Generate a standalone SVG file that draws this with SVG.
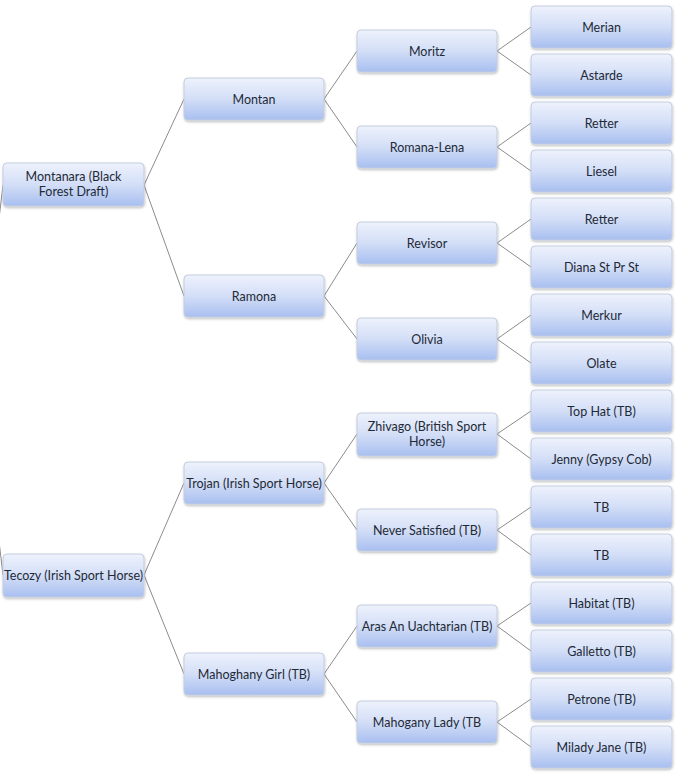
<svg xmlns="http://www.w3.org/2000/svg" width="681" height="776" viewBox="0 0 681 776">
<defs>
<linearGradient id="g" x1="0" y1="0" x2="0" y2="1">
<stop offset="0" stop-color="#eef2fc"/>
<stop offset="0.5" stop-color="#d3def7"/>
<stop offset="1" stop-color="#a8bff0"/>
</linearGradient>
<filter id="sh" x="-10%" y="-20%" width="120%" height="150%">
<feDropShadow dx="0.5" dy="1.5" stdDeviation="1.2" flood-color="#000" flood-opacity="0.25"/>
</filter>
</defs>
<style>
.n rect{fill:url(#g);stroke:#c3cde0;stroke-width:1;filter:url(#sh)}
.n text{font-family:Lato,"Open Sans",sans-serif;font-size:12.5px;fill:#1e2a36;text-anchor:middle}
.c line{stroke:#8c8c8c;stroke-width:1}
</style>
<rect x="0" y="0" width="681" height="776" fill="#ffffff"/>
<g class="c">
<line x1="3" y1="185" x2="-20" y2="380"/>
<line x1="3" y1="575" x2="-20" y2="380"/>
<line x1="144" y1="185" x2="184" y2="99"/>
<line x1="144" y1="185" x2="184" y2="296"/>
<line x1="144" y1="575" x2="184" y2="483"/>
<line x1="144" y1="575" x2="184" y2="674"/>
<line x1="324" y1="99" x2="357" y2="51"/>
<line x1="324" y1="99" x2="357" y2="147"/>
<line x1="324" y1="296" x2="357" y2="243"/>
<line x1="324" y1="296" x2="357" y2="339"/>
<line x1="324" y1="483" x2="357" y2="434"/>
<line x1="324" y1="483" x2="357" y2="530"/>
<line x1="324" y1="674" x2="357" y2="626"/>
<line x1="324" y1="674" x2="357" y2="722"/>
<line x1="497" y1="51" x2="531" y2="27"/>
<line x1="497" y1="51" x2="531" y2="75"/>
<line x1="497" y1="147" x2="531" y2="123"/>
<line x1="497" y1="147" x2="531" y2="171"/>
<line x1="497" y1="243" x2="531" y2="219"/>
<line x1="497" y1="243" x2="531" y2="267"/>
<line x1="497" y1="339" x2="531" y2="315"/>
<line x1="497" y1="339" x2="531" y2="363"/>
<line x1="497" y1="434" x2="531" y2="411"/>
<line x1="497" y1="434" x2="531" y2="459"/>
<line x1="497" y1="530" x2="531" y2="507"/>
<line x1="497" y1="530" x2="531" y2="555"/>
<line x1="497" y1="626" x2="531" y2="603"/>
<line x1="497" y1="626" x2="531" y2="651"/>
<line x1="497" y1="722" x2="531" y2="699"/>
<line x1="497" y1="722" x2="531" y2="747"/>
</g>
<g id="montanara" class="n"><rect x="3" y="163" width="141" height="43" rx="4"/><text x="73.5" y="181">Montanara (Black</text><text x="73.5" y="196">Forest Draft)</text></g>
<g id="tecozy" class="n"><rect x="3" y="554" width="141" height="43" rx="4"/><text x="73.5" y="580">Tecozy (Irish Sport Horse)</text></g>
<g id="montan" class="n"><rect x="184" y="78" width="140" height="42" rx="4"/><text x="254" y="104">Montan</text></g>
<g id="ramona" class="n"><rect x="184" y="275" width="140" height="42" rx="4"/><text x="254" y="301">Ramona</text></g>
<g id="trojan" class="n"><rect x="184" y="462" width="140" height="42" rx="4"/><text x="254" y="488">Trojan (Irish Sport Horse)</text></g>
<g id="mahoghany-girl" class="n"><rect x="184" y="653" width="140" height="42" rx="4"/><text x="254" y="679">Mahoghany Girl (TB)</text></g>
<g id="moritz" class="n"><rect x="357" y="30" width="140" height="42" rx="4"/><text x="427" y="56">Moritz</text></g>
<g id="romana-lena" class="n"><rect x="357" y="126" width="140" height="42" rx="4"/><text x="427" y="152">Romana-Lena</text></g>
<g id="revisor" class="n"><rect x="357" y="222" width="140" height="42" rx="4"/><text x="427" y="248">Revisor</text></g>
<g id="olivia" class="n"><rect x="357" y="318" width="140" height="42" rx="4"/><text x="427" y="344">Olivia</text></g>
<g id="zhivago" class="n"><rect x="357" y="413" width="140" height="43" rx="4"/><text x="427" y="431">Zhivago (British Sport</text><text x="427" y="446">Horse)</text></g>
<g id="never-satisfied" class="n"><rect x="357" y="509" width="140" height="42" rx="4"/><text x="427" y="535">Never Satisfied (TB)</text></g>
<g id="aras" class="n"><rect x="357" y="605" width="140" height="42" rx="4"/><text x="427" y="631">Aras An Uachtarian (TB)</text></g>
<g id="mahogany-lady" class="n"><rect x="357" y="701" width="140" height="42" rx="4"/><text x="427" y="727">Mahogany Lady (TB</text></g>
<g id="merian" class="n"><rect x="531" y="6" width="141" height="42" rx="4"/><text x="601.5" y="32">Merian</text></g>
<g id="astarde" class="n"><rect x="531" y="54" width="141" height="42" rx="4"/><text x="601.5" y="80">Astarde</text></g>
<g id="retter1" class="n"><rect x="531" y="102" width="141" height="42" rx="4"/><text x="601.5" y="128">Retter</text></g>
<g id="liesel" class="n"><rect x="531" y="150" width="141" height="42" rx="4"/><text x="601.5" y="176">Liesel</text></g>
<g id="retter2" class="n"><rect x="531" y="198" width="141" height="42" rx="4"/><text x="601.5" y="224">Retter</text></g>
<g id="diana" class="n"><rect x="531" y="246" width="141" height="42" rx="4"/><text x="601.5" y="272">Diana St Pr St</text></g>
<g id="merkur" class="n"><rect x="531" y="294" width="141" height="42" rx="4"/><text x="601.5" y="320">Merkur</text></g>
<g id="olate" class="n"><rect x="531" y="342" width="141" height="42" rx="4"/><text x="601.5" y="368">Olate</text></g>
<g id="top-hat" class="n"><rect x="531" y="390" width="141" height="42" rx="4"/><text x="601.5" y="416">Top Hat (TB)</text></g>
<g id="jenny" class="n"><rect x="531" y="438" width="141" height="42" rx="4"/><text x="601.5" y="464">Jenny (Gypsy Cob)</text></g>
<g id="tb1" class="n"><rect x="531" y="486" width="141" height="42" rx="4"/><text x="601.5" y="512">TB</text></g>
<g id="tb2" class="n"><rect x="531" y="534" width="141" height="42" rx="4"/><text x="601.5" y="560">TB</text></g>
<g id="habitat" class="n"><rect x="531" y="582" width="141" height="42" rx="4"/><text x="601.5" y="608">Habitat (TB)</text></g>
<g id="galletto" class="n"><rect x="531" y="630" width="141" height="42" rx="4"/><text x="601.5" y="656">Galletto (TB)</text></g>
<g id="petrone" class="n"><rect x="531" y="678" width="141" height="42" rx="4"/><text x="601.5" y="704">Petrone (TB)</text></g>
<g id="milady-jane" class="n"><rect x="531" y="726" width="141" height="42" rx="4"/><text x="601.5" y="752">Milady Jane (TB)</text></g>
</svg>
